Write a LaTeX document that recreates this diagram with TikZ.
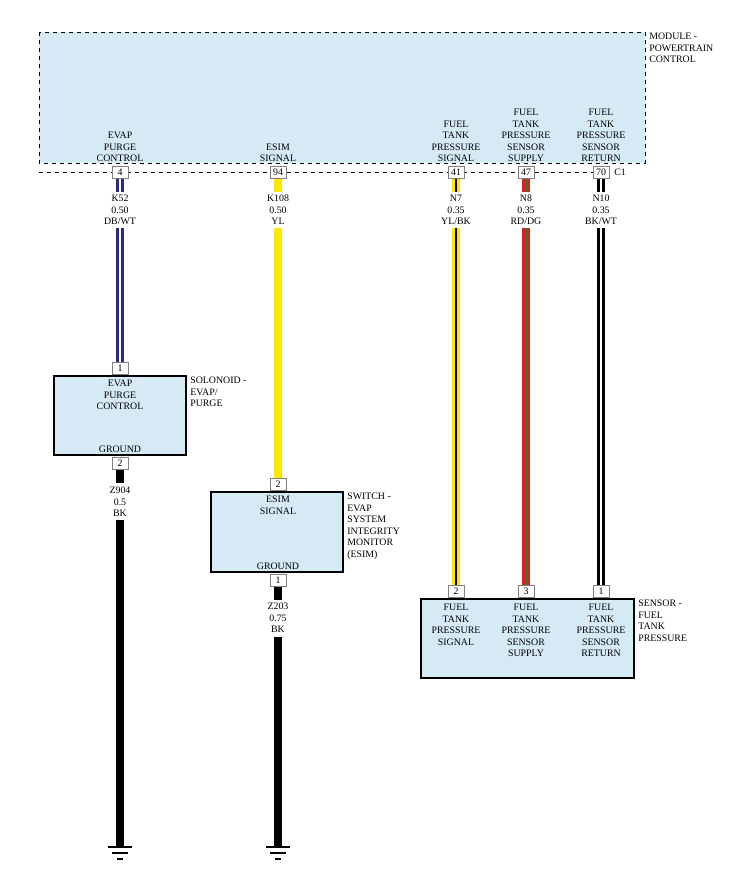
\documentclass[tikz,border=0pt]{standalone}
\usepackage{fontspec}
\setmainfont{Liberation Serif}
\definecolor{boxfill}{HTML}{D6EAF6}
\definecolor{dblue}{HTML}{2A2A80}
\definecolor{wyel}{HTML}{FFE800}
\definecolor{dgreen}{HTML}{2E7D32}
\definecolor{wred}{HTML}{E02020}
\begin{document}
\begin{tikzpicture}[x=0.75pt,y=-0.75pt,
  every node/.style={font=\fontsize{7.4}{8.6}\selectfont,inner sep=0pt,align=center},
  pin/.style={draw=gray,fill=white,minimum width=12pt,minimum height=9pt},
  comp/.style={draw=black,fill=boxfill,line width=1pt},
  lbl/.style={align=left,anchor=north west},
  wirelbl/.style={align=center,anchor=north}]
\useasboundingbox (0,0) rectangle (741,888);
% module
\draw[dashed,fill=boxfill] (39,32) rectangle (645,163);
\node[lbl] (mlbl) at (649,33) {MODULE -\\POWERTRAIN\\CONTROL};
\node[anchor=south] (m1) at (120,162) {EVAP\\PURGE\\CONTROL};
\node[anchor=south] (m2) at (278,162) {ESIM\\SIGNAL};
\node[anchor=south] (m3) at (456,162) {FUEL\\TANK\\PRESSURE\\SIGNAL};
\node[anchor=south] (m4) at (526,162) {FUEL\\TANK\\PRESSURE\\SENSOR\\SUPPLY};
\node[anchor=south] (m5) at (601,162) {FUEL\\TANK\\PRESSURE\\SENSOR\\RETURN};
\draw[dashed] (39,172) -- (610,172);
\node (c1) at (620,172) {C1};
% wires (drawn before pins)
\newcommand{\twotone}[5]{% x, y1, y2, outer, inner
  \fill[#4] (#1-4,#2) rectangle (#1+4,#3);
  \fill[#5] (#1-1.2,#2) rectangle (#1+1.2,#3);}
\twotone{120}{178}{192}{dblue}{white}
\twotone{120}{228}{363}{dblue}{white}
\fill[wyel] (274,178) rectangle (282,192);
\fill[wyel] (274,228) rectangle (282,480);
\twotone{456}{178}{192}{wyel}{black}
\twotone{456}{228}{586}{wyel}{black}
\twotone{526}{178}{192}{wred}{dgreen}
\twotone{526}{228}{586}{wred}{dgreen}
\twotone{601}{178}{192}{black}{white}
\twotone{601}{228}{586}{black}{white}
\fill[black] (116,469) rectangle (124,483);
\fill[black] (116,520) rectangle (124,846);
\fill[black] (274,586) rectangle (282,600);
\fill[black] (274,637) rectangle (282,846);
% wire labels
\node[wirelbl] (w1) at (120,195) {K52\\0.50\\DB/WT};
\node[wirelbl] (w2) at (278,195) {K108\\0.50\\YL};
\node[wirelbl] (w3) at (456,195) {N7\\0.35\\YL/BK};
\node[wirelbl] (w4) at (526,195) {N8\\0.35\\RD/DG};
\node[wirelbl] (w5) at (601,195) {N10\\0.35\\BK/WT};
\node[wirelbl] (w6) at (120,487) {Z904\\0.5\\BK};
\node[wirelbl] (w7) at (278,603) {Z203\\0.75\\BK};
% module pins
\node[pin] (p4) at (120,172) {4};
\node[pin] (p94) at (278,172) {94};
\node[pin] (p41) at (456,172) {41};
\node[pin] (p47) at (526,172) {47};
\node[pin] (p70) at (601,172) {70};
% solenoid
\draw[comp] (54,376) rectangle (186,455);
\node[anchor=north] (s1) at (120,380) {EVAP\\PURGE\\CONTROL};
\node[anchor=south] (s2) at (120,453) {GROUND};
\node[lbl] (slbl) at (190,377) {SOLONOID -\\EVAP/\\PURGE};
\node[pin] (sp1) at (120,368) {1};
\node[pin] (sp2) at (120,463) {2};
% switch
\draw[comp] (211,492) rectangle (343,572);
\node[anchor=north] (e1) at (278,496) {ESIM\\SIGNAL};
\node[anchor=south] (e2) at (278,570) {GROUND};
\node[lbl] (elbl) at (347,493) {SWITCH -\\EVAP\\SYSTEM\\INTEGRITY\\MONITOR\\(ESIM)};
\node[pin] (ep2) at (278,484) {2};
\node[pin] (ep1) at (278,580) {1};
% sensor
\draw[comp] (421,599) rectangle (634,678);
\node[anchor=north] (t1) at (456,604) {FUEL\\TANK\\PRESSURE\\SIGNAL};
\node[anchor=north] (t2) at (526,604) {FUEL\\TANK\\PRESSURE\\SENSOR\\SUPPLY};
\node[anchor=north] (t3) at (601,604) {FUEL\\TANK\\PRESSURE\\SENSOR\\RETURN};
\node[lbl] (tlbl) at (638,600) {SENSOR -\\FUEL\\TANK\\PRESSURE};
\node[pin] (tp2) at (456,591) {2};
\node[pin] (tp3) at (526,591) {3};
\node[pin] (tp1) at (601,591) {1};
% grounds
\foreach \x in {120,278}{
  \draw[line width=1pt] (\x-12,847) -- (\x+12,847);
  \draw[line width=1pt] (\x-8,853) -- (\x+8,853);
  \draw[line width=1pt] (\x-3,859) -- (\x+3,859);}
\end{tikzpicture}
\end{document}
